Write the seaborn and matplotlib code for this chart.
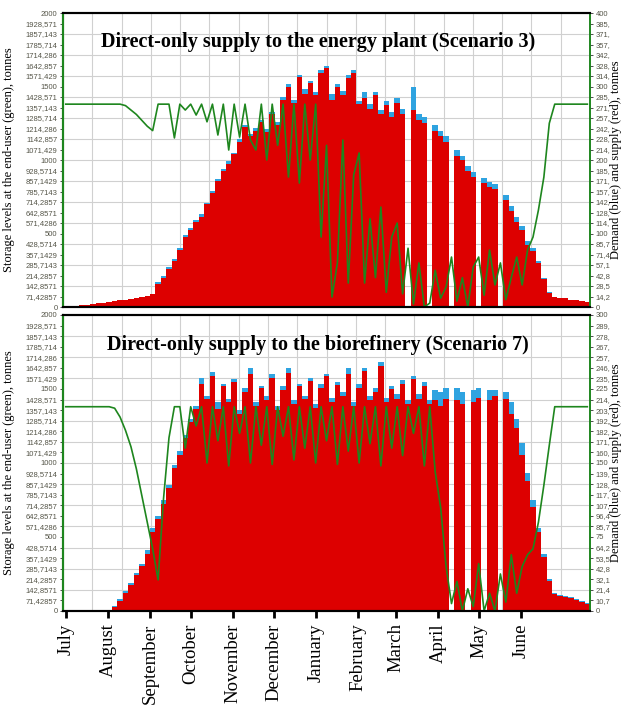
import numpy as np
import matplotlib
matplotlib.use("Agg")
import matplotlib.pyplot as plt
import seaborn as sns

# day index from 1 July, one value every 4 days
days = np.arange(0, 388, 4)

month_names = ["July", "August", "September", "October", "November", "December",
               "January", "February", "March", "April", "May", "June"]
month_days = [0, 31, 62, 92, 123, 153, 184, 215, 243, 274, 304, 335]

# Scenario 3 - energy plant (right axis 0-400 t)
s3_supply = [1, 2, 2, 3, 3, 4, 5, 6, 7, 8,
             9, 10, 11, 12, 13, 15, 18, 32, 40, 52,
             63, 78, 95, 105, 115, 122, 140, 155, 172, 185,
             195, 208, 225, 245, 232, 240, 252, 238, 262, 248,
             282, 300, 278, 313, 290, 305, 288, 318, 325, 282,
             300, 288, 312, 318, 276, 284, 270, 288, 262, 275,
             258, 278, 262, 0, 268, 255, 250, 0, 240, 232,
             225, 0, 205, 200, 185, 177, 0, 169, 163, 160,
             0, 145, 130, 115, 105, 85, 76, 60, 38, 19,
             14, 12, 12, 10, 9, 8, 7]
s3_demand = [1, 2, 2, 3, 3, 4, 5, 6, 7, 8,
             9, 10, 11, 12, 13, 15, 18, 34, 42, 55,
             66, 80, 98, 108, 118, 126, 142, 158, 174, 188,
             198, 210, 228, 248, 236, 244, 255, 242, 266, 252,
             286, 304, 282, 316, 296, 308, 292, 322, 328, 290,
             304, 294, 316, 322, 280, 292, 276, 292, 268, 280,
             266, 284, 270, 0, 300, 262, 258, 0, 247, 240,
             232, 0, 213, 205, 192, 184, 0, 176, 170, 168,
             0, 152, 138, 122, 110, 90, 80, 63, 40, 20,
             14, 12, 12, 10, 9, 8, 7]
s3_storage = [1380, 1380, 1380, 1380, 1380, 1380, 1380, 1380, 1380, 1380,
              1380, 1370, 1340, 1310, 1270, 1230, 1200, 1380, 1380, 1380,
              1150, 1380, 1340, 1380, 1306, 1380, 1260, 1380, 1170, 1380,
              1068, 1380, 1156, 1380, 1136, 1068, 1380, 1000, 1380, 1100,
              1380, 884, 1380, 843, 1380, 1000, 1380, 476, 1100, 68,
              300, 1136, 163, 900, 1048, 163, 600, 200, 680, 100,
              476, 571, 90, 400, 20, 300, 0, 27, 250, 60,
              136, 340, 40, 200, 0, 272, 340, 80, 388, 150,
              300, 50, 200, 340, 150, 388, 476, 660, 884, 1250,
              1380, 1380, 1380, 1380, 1380, 1380, 1380]

# Scenario 7 - biorefinery (right axis 0-300 t)
s7_supply = [0, 0, 0, 0, 0, 0, 0, 0, 0, 4,
             10, 18, 26, 36, 46, 58, 80, 93, 108, 125,
             145, 158, 175, 192, 205, 230, 215, 238, 205, 228,
             212, 232, 200, 222, 240, 208, 226, 214, 236, 204,
             224, 241, 210, 228, 215, 233, 206, 226, 238, 212,
             229, 218, 240, 208, 226, 243, 214, 222, 248, 212,
             225, 215, 230, 210, 235, 215, 228, 210, 214, 208,
             215, 0, 214, 210, 0, 212, 216, 0, 214, 218,
             0, 215, 200, 185, 158, 132, 105, 80, 55, 30,
             17, 15, 14, 13, 11, 9, 7]
s7_demand = [0, 0, 0, 0, 0, 0, 0, 0, 0, 5,
             12, 20, 28, 38, 48, 62, 84, 96, 112, 128,
             148, 162, 178, 195, 208, 236, 218, 242, 212, 230,
             215, 235, 204, 226, 246, 212, 228, 218, 240, 208,
             228, 246, 214, 230, 218, 236, 210, 230, 240, 216,
             232, 222, 246, 212, 230, 246, 218, 226, 252, 216,
             228, 220, 234, 214, 238, 220, 232, 214, 224, 222,
             226, 0, 226, 222, 0, 224, 226, 0, 224, 224,
             0, 222, 212, 195, 170, 140, 112, 84, 58, 32,
             18, 16, 15, 14, 12, 10, 8]
s7_storage = [1380, 1380, 1380, 1380, 1380, 1380, 1380, 1380, 1380, 1370,
              1310, 1220, 1110, 960, 780, 600, 420, 210, 760, 1170,
              1380, 1380, 1100, 1380, 1250, 1380, 1000, 1380, 1150, 1380,
              980, 1380, 1200, 1380, 1000, 1380, 1120, 1380, 990, 1380,
              1180, 1380, 1020, 1380, 1100, 1380, 1000, 1380, 1150, 1380,
              990, 1380, 1080, 1380, 1000, 1380, 1130, 1380, 980, 1380,
              1100, 1380, 1050, 1380, 1200, 1380, 980, 1380, 940, 700,
              300, 50, 200, 0, 150, 30, 320, 0, 120, 0,
              250, 60, 380, 120, 300, 380, 420, 600, 850, 1120,
              1380, 1380, 1380, 1380, 1380, 1380, 1380]

RED = "#dd0000"
BLUE = "#2fa3e0"
GREEN = "#1e861e"
GRID = "#d0d0d0"

plt.rcParams["font.family"] = ["Liberation Serif", "DejaVu Serif"]

fig = plt.figure(figsize=(6.24, 7.15), dpi=100)


def fmt_left(v):
    return f"{v:.7g}".replace(".", ",")


def fmt_right(v):
    return f"{v:.7g}".replace(".", ",")[:4]


def panel(rect, supply, demand, storage, right_max, title, show_months):
    ax = fig.add_axes(rect)
    ax2 = ax.twinx()
    # storage line has to sit above the bars
    ax.set_zorder(2)
    ax2.set_zorder(1)
    ax.patch.set_visible(False)

    for v in np.linspace(0, right_max, 15):
        ax2.axhline(v, color=GRID, lw=0.8, zorder=0)
    for d in np.linspace(-2, 386, 19):
        ax2.axvline(d, color=GRID, lw=0.8, zorder=0)

    sns.barplot(x=days, y=demand, native_scale=True, orient="x", color=BLUE,
                saturation=1, width=1, linewidth=0, errorbar=None, ax=ax2)
    sns.barplot(x=days, y=supply, native_scale=True, orient="x", color=RED,
                saturation=1, width=1, linewidth=0, errorbar=None, ax=ax2)
    sns.lineplot(x=days, y=storage, color=GREEN, lw=1.2, estimator=None, ax=ax)

    ax.set_xlim(-2, 386)
    ax.set_ylim(0, 2000)
    ax2.set_ylim(0, right_max)

    lt = np.linspace(0, 2000, 29)
    ax.set_yticks(lt)
    ax.set_yticklabels([fmt_left(v) for v in lt], fontsize=5.5,
                       family="Liberation Sans", color="#555548")
    rt = np.linspace(0, right_max, 29)
    ax2.set_yticks(rt)
    ax2.set_yticklabels([fmt_right(v) for v in rt], fontsize=5.5,
                        family="Liberation Sans", color="#555548")
    ax.tick_params(axis="y", length=2.5, width=0.6, color="#333333", pad=1.5)
    ax2.tick_params(axis="y", length=2.5, width=0.6, color="#333333", pad=1.5)

    ax.set_xticks(month_days)
    if show_months:
        ax.set_xticklabels(month_names, rotation=90, fontsize=13.5, va="top")
        ax.tick_params(axis="x", length=5, width=2, color="black", pad=4)
    else:
        ax.set_xticklabels([])
        ax.tick_params(axis="x", length=0)
    ax.set_xlabel("")

    for a in (ax, ax2):
        a.spines["left"].set_color(GREEN)
        a.spines["left"].set_linewidth(1.5)
        a.spines["right"].set_color(GREEN)
        a.spines["right"].set_linewidth(1.2)
        a.spines["top"].set_color("black")
        a.spines["top"].set_linewidth(1.5)
        a.spines["bottom"].set_color("black")
        a.spines["bottom"].set_linewidth(1.5)

    ax.set_ylabel("Storage levels at the end-user (green), tonnes", fontsize=9)
    ax.yaxis.set_label_coords(-0.092, 0.5)
    ax2.set_ylabel("Demand (blue) and supply (red), tonnes", fontsize=9,
                   rotation=90)
    ax2.yaxis.set_label_coords(1.038, 0.5)

    ax.text(0.484, 0.90, title, transform=ax.transAxes, ha="center",
            va="center", fontsize=14.5, fontweight="bold", zorder=5)
    return ax, ax2


panel([0.101, 0.5706, 0.8446, 0.4112], s3_supply, s3_demand, s3_storage, 400,
      "Direct-only supply to the energy plant (Scenario 3)", False)
panel([0.101, 0.1455, 0.8446, 0.414], s7_supply, s7_demand, s7_storage, 300,
      "Direct-only supply to the biorefinery (Scenario 7)", True)

fig.savefig("out.png", dpi=100)
